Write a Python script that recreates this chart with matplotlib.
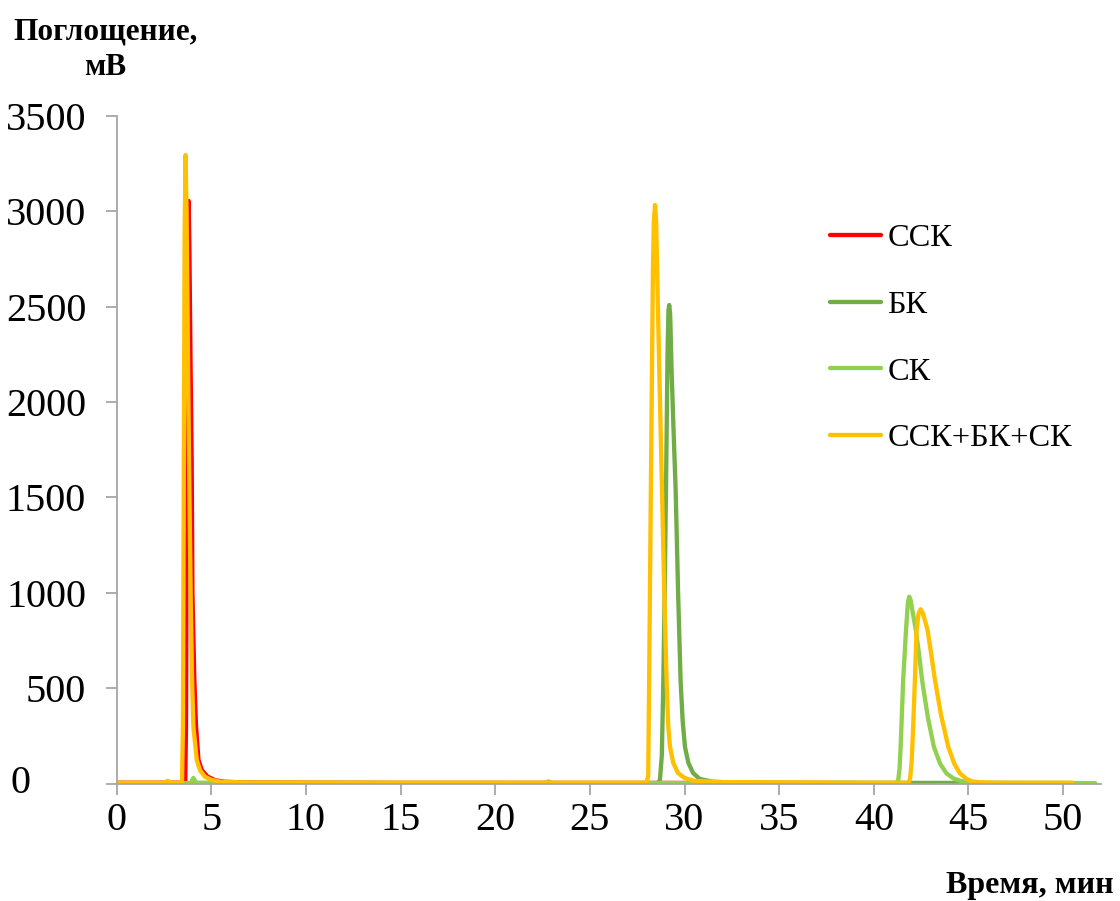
import matplotlib
matplotlib.use("Agg")
import matplotlib.pyplot as plt

plt.rcParams['font.family'] = ['Liberation Serif', 'DejaVu Serif']

# retention time (min) / absorbance (mV) read point by point
t_ssk = [0, 3.0, 3.62, 3.66, 3.70, 3.74, 3.78, 3.80, 3.84, 3.90, 3.96, 4.00,
         4.10, 4.19, 4.32, 4.5, 4.8, 5.2, 5.7, 7, 15, 30, 40, 50.5]
v_ssk = [5, 5, 5, 300, 1500, 2600, 3000, 3053, 2800, 2200, 1695, 1000,
         550, 299, 124, 70, 37, 18, 10, 6, 4, 4, 3, 3]

t_bk = [0, 28.6, 28.7, 28.8, 28.88, 28.95, 29.02, 29.10, 29.15, 29.19, 29.24,
        29.32, 29.42, 29.53, 29.66, 29.79, 29.9, 30.02, 30.2, 30.45, 30.8,
        31.5, 33, 50.5]
v_bk = [3, 3, 20, 150, 543, 1000, 1538, 2250, 2480, 2508, 2460,
        2150, 1850, 1538, 1000, 543, 330, 194, 110, 56, 25,
        10, 5, 3]

t_sk = [0, 3.9, 4.05, 4.2, 22.6, 22.8, 23.0, 41.2, 41.29, 41.36, 41.42, 41.55,
        41.70, 41.80, 41.87, 41.95, 42.05, 42.22, 42.4, 42.55, 42.85, 43.17,
        43.5, 43.84, 44.2, 44.6, 45.2, 46, 51.7]
v_sk = [3, 3, 30, 5, 3, 12, 3, 3, 20, 80, 200, 543,
        805, 950, 980, 960, 900, 805, 670, 543, 350, 194,
        105, 54, 28, 14, 7, 4, 3]

t_mix = [0, 2.5, 2.7, 2.9, 3.45, 3.50, 3.55, 3.59, 3.64, 3.69, 3.76, 3.82,
         3.91, 3.98, 4.05, 4.23, 4.4, 4.66, 5.0, 5.5, 7, 15,
         27.9, 28.0, 28.08, 28.13, 28.22, 28.33, 28.38, 28.44, 28.50, 28.55,
         28.68, 28.81, 28.93, 29.05, 29.14, 29.23, 29.4, 29.65, 30.0, 30.5,
         32, 40,
         41.85, 41.92, 42.0, 42.08, 42.17, 42.26, 42.36, 42.47, 42.58, 42.70,
         42.84, 43.03, 43.23, 43.55, 43.93, 44.25, 44.55, 44.9, 45.2, 45.6,
         46.5, 50.5]
v_mix = [5, 5, 15, 5, 5, 300, 1800, 2900, 3294, 3000, 2300, 1695,
         962, 550, 299, 124, 70, 37, 20, 10, 6, 5,
         5, 10, 40, 543, 1538, 2700, 2950, 3032, 2950, 2700,
         2100, 1538, 1000, 543, 300, 194, 110, 56, 30, 15,
         8, 5,
         5, 30, 120, 300, 543, 805, 890, 914, 895, 855,
         805, 680, 543, 360, 194, 105, 54, 25, 12, 7,
         5, 5]

series = [
    (t_ssk, v_ssk, "ССК", "#ff0000"),
    (t_bk, v_bk, "БК", "#70ad47"),
    (t_sk, v_sk, "СК", "#92d050"),
    (t_mix, v_mix, "ССК+БК+СК", "#ffc000"),
]

AXIS_COLOR = "#a6a6a6"

fig = plt.figure(figsize=(11.2, 9.01), dpi=100)
ax = fig.add_axes([0.1042, 0.1302, 0.983 - 0.1042, 0.8716 - 0.1302])

for t, v, name, color in series:
    ax.plot(t, v, color=color, linewidth=3.1, label=name,
            solid_joinstyle="round", solid_capstyle="round")

ax.set_xlim(0, 52)
ax.set_ylim(0, 3500)
ax.set_xticks(range(0, 51, 5))
yticks = list(range(0, 3501, 500))
ax.set_yticks(yticks)
# the zero label sits flush left, the rest are right-aligned
ax.set_yticklabels([""] + [str(y) for y in yticks[1:]])
ax.annotate("0", xy=(0, 0), xycoords=("axes fraction", "data"),
            xytext=(-106, 0), textcoords="offset pixels",
            ha="left", va="center", fontsize=29)

for side in ("top", "right"):
    ax.spines[side].set_visible(False)
for side in ("left", "bottom"):
    ax.spines[side].set_color(AXIS_COLOR)
    ax.spines[side].set_linewidth(1.3)

ax.tick_params(axis="both", direction="out", length=8, width=1.3,
               color=AXIS_COLOR, labelsize=29, labelcolor="black")
ax.tick_params(axis="y", pad=14)
ax.tick_params(axis="x", pad=5)

ax.legend(loc="upper left", bbox_to_anchor=(0.695, 0.882), frameon=False,
          fontsize=23.3, handlelength=1.57, handletextpad=0.2,
          labelspacing=1.145)

fig.text(0.094, 0.981, "Поглощение,\nмВ", fontsize=22.5, fontweight="bold",
         ha="center", va="top", linespacing=1.32)
fig.text(0.994, 0.009, "Время, мин", fontsize=23, fontweight="bold",
         ha="right", va="baseline")

fig.savefig("out.png", dpi=100)
